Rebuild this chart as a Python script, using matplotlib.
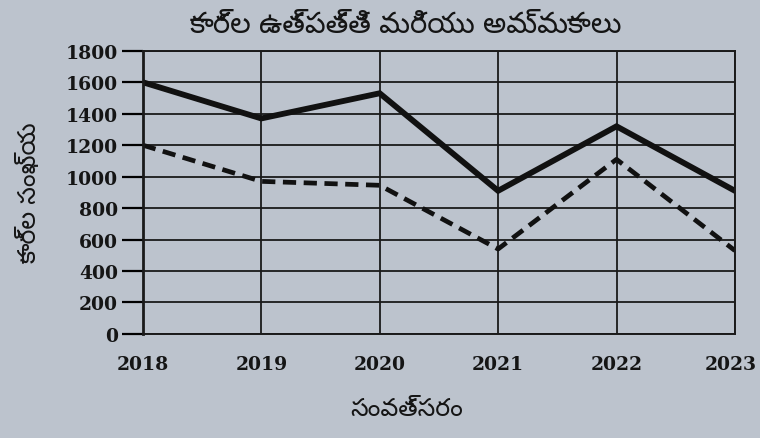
import numpy as np
import matplotlib
matplotlib.use("Agg")
from matplotlib import pyplot as plt

# data
years = [2018, 2019, 2020, 2021, 2022, 2023]
production = [1600, 1370, 1530, 910, 1320, 910]
sales = [1200, 970, 945, 540, 1110, 530]
yticks = list(range(0, 1801, 200))

title = "కార్ల ఉత్పత్తి మరియు అమ్మకాలు"
xlab = "సంవత్సరం"
ylab = "కార్ల సంఖ్య"

paper = "#bcc3cd"
telugu = ["Noto Sans Telugu", "DejaVu Sans"]
tickfont = dict(family="DejaVu Serif", size=13.5, weight="bold", color="#151515")

fig = plt.figure(figsize=(7.6, 4.39), dpi=100, facecolor=paper)
ax = fig.add_axes([0.188, 0.237, 0.779, 0.645], facecolor=paper)

ax.plot(years, production, color="#111111", lw=4.2, solid_joinstyle="miter")
ax.plot(years, sales, color="#111111", lw=3.4, ls=(0, (2.8, 1.6)))

ax.set_xlim(years[0], years[-1])
ax.set_ylim(0, 1800)
ax.set_yticks(yticks)
ax.set_xticks(years)
# last year label sits on the right edge, drawn separately so it fits
ax.set_xticklabels([str(y) for y in years[:-1]] + [""])
ax.annotate(str(years[-1]), xy=(years[-1], 0), xytext=(-3, -15),
            textcoords="offset points", ha="center", va="top", **tickfont)
ax.grid(True, color="#1a1a1a", lw=1.3)
for s in ax.spines.values():
    s.set_color("#1a1a1a")
    s.set_linewidth(1.4)
ax.spines["left"].set_linewidth(2.0)

ax.tick_params(axis="y", length=15, width=1.6, direction="out", pad=3)
ax.tick_params(axis="x", length=0, pad=15)
for lab in ax.get_xticklabels() + ax.get_yticklabels():
    lab.set_fontfamily(tickfont["family"])
    lab.set_fontsize(tickfont["size"])
    lab.set_fontweight(tickfont["weight"])
    lab.set_color(tickfont["color"])

fig.text(0.535, 0.942, title, ha="center", va="center", fontsize=21,
         fontweight="bold", family=telugu, color="#151515")
fig.text(0.535, 0.068, xlab, ha="center", va="center", fontsize=18,
         family=telugu, color="#151515")
fig.text(0.04, 0.56, ylab, ha="center", va="center", fontsize=18,
         rotation=90, family=telugu, color="#151515")

fig.savefig("out.png", dpi=100, facecolor=paper)
